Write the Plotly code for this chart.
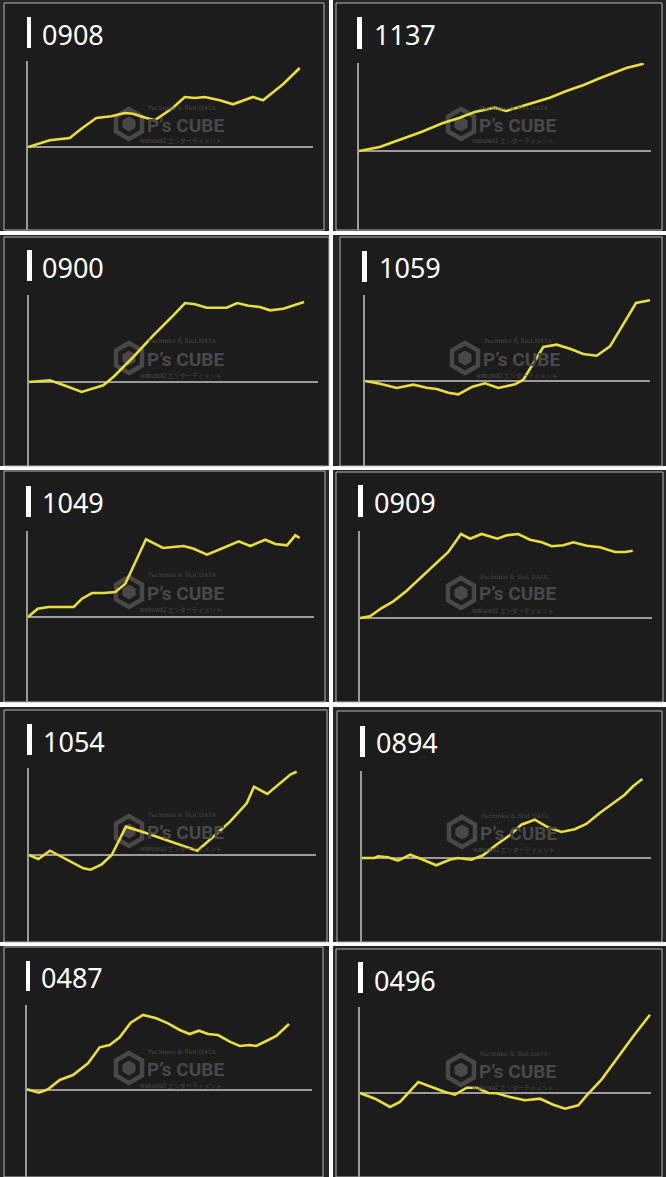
import math
import plotly.graph_objects as go

W, H = 666, 1177

# ---------------- data (arbitrary units) ----------------
titles = ["0908", "1137", "0900", "1059", "1049", "0909", "1054", "0894", "0487", "0496"]

x_0908 = [0, 21.7, 41.7, 53.3, 68.3, 83.3, 96.7, 105, 115, 126.7, 145, 156.7, 166.7, 176.7, 191.7, 205, 225, 235, 255, 271.7]
y_0908 = [0, 6.7, 9, 18.3, 29, 30.7, 34, 33.3, 30, 26.7, 39.3, 50, 49, 50, 46.7, 42.7, 50, 46.7, 62.7, 79]

x_1137 = [0, 20.7, 40.7, 62.3, 84, 100.7, 115.7, 135.7, 147.3, 160.7, 174, 190.7, 207.3, 224, 240.7, 254, 267.3, 284.7]
y_1137 = [0, 4, 11.3, 19, 28, 33.3, 39, 43.3, 40, 44, 48, 53.3, 60, 65.7, 72.7, 78, 83, 87.3]

x_0900 = [0, 21, 37.7, 52.7, 74.3, 84.3, 104.3, 124.3, 144.3, 156, 166, 177.7, 197.7, 208.3, 219.3, 231, 241, 254.3, 275]
y_0900 = [0, 1.7, -4.3, -10, -3.3, 5, 25, 46.7, 66.7, 79, 77.7, 74.3, 74.3, 79, 76.3, 75, 71.7, 73.3, 80]

x_1059 = [0, 15, 31.7, 48.3, 61.7, 71.7, 83.3, 93.3, 106.7, 120, 133.3, 150, 158.3, 168.3, 178.3, 191.7, 205, 218.3, 231.7, 245, 258.3, 271, 285]
y_1059 = [0, -2.7, -7, -3.7, -6.7, -8, -11.7, -13.3, -6, -2.3, -7, -3.3, 1.3, 17.3, 34, 36.3, 32.3, 27, 25.3, 34.7, 57.3, 78, 80.7]

x_1049 = [0, 9.7, 20.7, 45.7, 54, 64, 75.7, 87.3, 97.3, 107.3, 118, 135, 145.7, 155.7, 165.7, 179, 195.7, 210.7, 222.3, 237.3, 247.3, 259, 267.3, 271.7]
y_1049 = [0, 8.3, 10, 10, 18.3, 24, 24, 25, 33.3, 55, 77.7, 69, 69.7, 71, 68.3, 62.3, 69.3, 75.7, 71, 77.3, 73, 71.7, 81.7, 79]

x_0909 = [0, 10, 21.7, 33.3, 46.7, 60, 73.3, 88.3, 101, 110, 121.7, 137.3, 146.7, 158.3, 170, 181.7, 191.7, 203.3, 213.3, 226.7, 240, 255, 265, 272.7]
y_0909 = [0, 1.7, 10, 16.7, 27.3, 40, 51.7, 66, 84, 79.3, 84, 79.3, 82.7, 84, 78.3, 75.7, 71.7, 72.7, 75.7, 72.3, 70.7, 66, 66, 67.3]

x_1054 = [0, 9.3, 21, 41, 54.3, 61.7, 72.7, 82.7, 89.3, 97, 117.7, 144.3, 168.3, 184.3, 201, 217.7, 225, 238.3, 252.7, 261.7, 267.7]
y_1054 = [0, -4, 4.3, -6, -13.3, -14.7, -9.3, 0, 13.3, 28.3, 21.7, 12.7, 4.3, 18.3, 33.3, 51.7, 68.3, 61, 73.3, 80.7, 83.3]

x_0894 = [0, 12.7, 16, 26, 36, 48.3, 61, 74.3, 87.7, 96, 109.3, 121, 134.3, 147.7, 159.3, 172.7, 186, 199.3, 212.7, 224.3, 237.7, 251, 262.7, 271, 280.3]
y_0894 = [0, 0, 1.7, 0.7, -2.7, 3.3, -1.7, -7.3, -1.7, 0, -1.7, 2.7, 13.3, 22.7, 33.3, 38.3, 30.7, 26, 28.7, 34, 45, 55, 63.3, 71.7, 79]

x_0487 = [0, 12, 21, 32.7, 46, 61, 72.7, 82.7, 92.7, 103.7, 116, 129.3, 141, 152.7, 162.7, 172, 181, 191, 202.7, 212.7, 222.7, 229.3, 239.3, 249.3, 262]
y_0487 = [0.7, -2.7, 0.7, 10, 15, 26.7, 42.7, 45, 52.7, 67.3, 75, 71.7, 66.7, 60, 56, 59.3, 56, 55, 48.3, 44, 45, 44, 49, 54, 66]

x_0496 = [0, 15, 30, 40, 58.3, 73.3, 85, 95, 106.7, 116.7, 128.3, 136.7, 150, 165, 180, 193.3, 205, 218.3, 226.7, 241.7, 256.7, 273.3, 290]
y_0496 = [0, -5.7, -14, -9, 11, 5.3, 1, -1.7, 5.3, 5.3, 0, -0.3, -4, -7.3, -5.7, -11.7, -15.7, -12.3, -2.3, 13.7, 34.3, 56.7, 78.3]

series_x = [x_0908, x_1137, x_0900, x_1059, x_1049, x_0909, x_1054, x_0894, x_0487, x_0496]
series_y = [y_0908, y_1137, y_0900, y_1059, y_1049, y_0909, y_1054, y_0894, y_0487, y_0496]

watermark_main = "<b>P’s CUBE</b>"
watermark_top = "Pachinko & Slot DATA"
watermark_bottom = "wakuwa2 エンターテイメント"

# ---------------- layout geometry (pixels) ----------------
panels = [
    dict(border=(4, 3, 324, 230), bar=(27, 17, 31, 48), text=(42, 24, 43), axis=(28, 61, 147, 313, 230)),
    dict(border=(336, 3, 662, 230), bar=(357, 17, 362, 49), text=(374, 25, 43), axis=(359, 63, 151, 651, 230)),
    dict(border=(4, 237, 329, 466), bar=(27, 250, 32, 281), text=(42, 257, 275), axis=(29, 295, 382, 318, 466)),
    dict(border=(340, 237, 662, 466), bar=(362, 251, 367, 282), text=(379, 257, 276), axis=(365, 295, 381, 650, 466)),
    dict(border=(4, 471, 325, 702), bar=(26, 486, 31, 517), text=(42, 492, 511), axis=(28, 531, 617, 314, 702)),
    dict(border=(336, 472, 663, 702), bar=(358, 485, 363, 517), text=(374, 492, 511), axis=(360, 531, 618, 652, 702)),
    dict(border=(4, 710, 327, 942), bar=(27, 724, 32, 755), text=(43, 731, 749), axis=(29, 768, 855, 316, 942)),
    dict(border=(337, 711, 662, 942), bar=(360, 726, 365, 757), text=(376, 732, 751), axis=(362, 771, 858, 651, 942)),
    dict(border=(4, 947, 323, 1177), bar=(26, 961, 30, 991), text=(41, 967, 985), axis=(27, 1005, 1090, 312, 1177)),
    dict(border=(336, 949, 662, 1177), bar=(358, 962, 363, 993), text=(374, 970, 988), axis=(360, 1007, 1093, 651, 1177)),
]

white_rows = [(231, 235), (466, 470), (702, 707), (942, 946)]
white_col = (329, 333)

BG = "#262626"
PANEL = "#1c1c1c"
BORDER = "#b4b4b4"
AXIS = "#9a9a9a"
YELLOW = "#e8de3e"
WM = "#484848"


def px(x):
    return x / W


def py(y):
    return 1 - y / H


fig = go.Figure()
shapes = []
annotations = []

for (a, b) in white_rows:
    shapes.append(dict(type="rect", xref="paper", yref="paper", x0=0, x1=1, y0=py(b), y1=py(a),
                       fillcolor="#ffffff", line=dict(width=0), layer="below"))
shapes.append(dict(type="rect", xref="paper", yref="paper", x0=px(white_col[0]), x1=px(white_col[1]),
                   y0=0, y1=1, fillcolor="#ffffff", line=dict(width=0), layer="below"))

for i, p in enumerate(panels):
    l, t, r, b = p["border"]
    shapes.append(dict(type="rect", xref="paper", yref="paper", x0=px(l), x1=px(r), y0=py(b), y1=py(t),
                       fillcolor=PANEL, line=dict(color=BORDER, width=1), layer="below"))
    bl, bt, br, bb = p["bar"]
    shapes.append(dict(type="rect", xref="paper", yref="paper", x0=px(bl), x1=px(br), y0=py(bb), y1=py(bt),
                       fillcolor="#ffffff", line=dict(width=0), layer="above"))
    tx, tcap, tbase = p["text"]
    annotations.append(dict(text=titles[i], xref="paper", yref="paper", x=px(tx - 2),
                            y=py((tcap + tbase) / 2 + 1), xanchor="left", yanchor="middle",
                            showarrow=False, font=dict(family="Noto Sans", size=27, color="#ffffff")))

    # watermark
    cx, cy = l + 125, t + 121

    def hexpath(rad):
        pts = []
        for k in range(6):
            ang = math.radians(90 + 60 * k)
            pts.append((px(cx + rad * math.cos(ang)), py(cy - rad * math.sin(ang))))
        return "M " + " L ".join(f"{a:.5f},{b:.5f}" for a, b in pts) + " Z"

    shapes.append(dict(type="path", xref="paper", yref="paper", path=hexpath(15),
                       line=dict(color=WM, width=4.5), fillcolor="rgba(0,0,0,0)", layer="below"))
    shapes.append(dict(type="path", xref="paper", yref="paper", path=hexpath(7),
                       line=dict(color=WM, width=1), fillcolor=WM, layer="below"))
    annotations.append(dict(text=watermark_main, xref="paper", yref="paper", x=px(l + 141), y=py(cy + 1),
                            xanchor="left", yanchor="middle", showarrow=False,
                            font=dict(family="Roboto", size=19, color=WM)))
    annotations.append(dict(text=watermark_top, xref="paper", yref="paper", x=px(l + 142), y=py(cy - 17),
                            xanchor="left", yanchor="middle", showarrow=False,
                            font=dict(family="DejaVu Serif", size=6, color=WM)))
    annotations.append(dict(text=watermark_bottom, xref="paper", yref="paper", x=px(l + 220), y=py(cy + 17),
                            xanchor="right", yanchor="middle", showarrow=False,
                            font=dict(family="Noto Sans CJK JP", size=6, color=WM)))

    # axes
    ax, atop, zy, aright, abot = p["axis"]
    n = i + 1
    sfx = "" if n == 1 else str(n)
    fig.add_trace(go.Scatter(x=series_x[i], y=series_y[i], mode="lines",
                             line=dict(color=YELLOW, width=2.6), hoverinfo="skip",
                             xaxis=f"x{sfx}", yaxis=f"y{sfx}", showlegend=False, cliponaxis=False))
    fig.layout[f"xaxis{sfx}"] = dict(domain=[px(ax), px(aright)], range=[0, aright - ax], visible=False,
                                     anchor=f"y{sfx}", fixedrange=True)
    fig.layout[f"yaxis{sfx}"] = dict(domain=[py(abot), py(atop)], range=[-(abot - zy), zy - atop],
                                     anchor=f"x{sfx}", showgrid=False, showticklabels=False, ticks="",
                                     showline=True, linecolor=AXIS, linewidth=1.6,
                                     zeroline=True, zerolinecolor=AXIS, zerolinewidth=1.6, fixedrange=True)

fig.update_layout(width=W, height=H, margin=dict(l=0, r=0, t=0, b=0), paper_bgcolor=BG,
                  plot_bgcolor="rgba(0,0,0,0)", shapes=shapes, annotations=annotations, showlegend=False)

fig.write_html("out.html", config={"displayModeBar": False},
               post_script="document.body.style.margin='0';document.body.style.overflow='hidden';")
